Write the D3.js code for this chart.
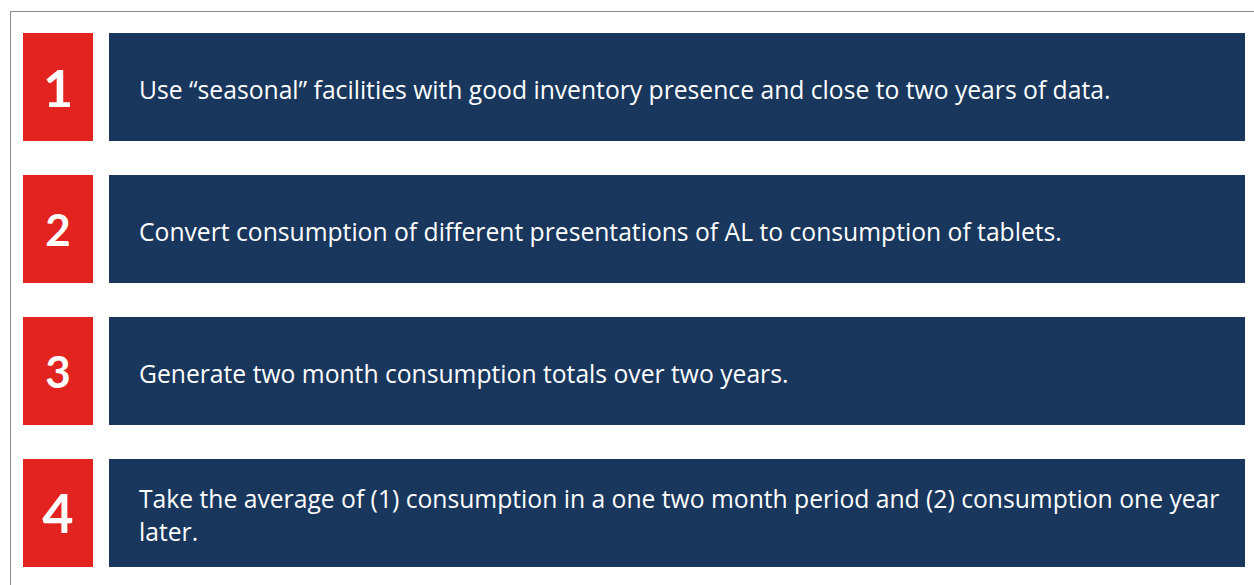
<!DOCTYPE html>
<html>
<head>
<meta charset="utf-8">
<script src="https://cdn.jsdelivr.net/npm/d3@7"></script>
<style>
  html, body { margin: 0; padding: 0; background: #fff; }
  svg { display: block; }
</style>
</head>
<body>
<svg id="chart" width="1254" height="585"></svg>
<script>
(function (d3) {
  'use strict';

  // step numbers and the text of each step (one entry per line)
  var steps = [1, 2, 3, 4];
  var stepLines = [
    ['Use \u201cseasonal\u201d facilities with good inventory presence and close to two years of data.'],
    ['Convert consumption of different presentations of AL to consumption of tablets.'],
    ['Generate two month consumption totals over two years.'],
    ['Take the average of (1) consumption in a one two month period and (2) consumption one year', 'later.']
  ];

  var width = 1254,
    height = 585,
    red = '#e2231f',
    navy = '#19365d',
    font = '"Open Sans", Lato, sans-serif',
    numSize = { 1: 52, 2: 44, 3: 44, 4: 54 },
    lineGap = 33,
    textX = 139,
    firstLineWidth = 972;

  var svg = d3.select('#chart');

  // frame
  svg.append('rect')
    .attr('x', 10.5)
    .attr('y', 11.5)
    .attr('width', width)
    .attr('height', height)
    .attr('fill', 'none')
    .attr('stroke', '#8c8c8c')
    .attr('stroke-width', 1);

  // pick a font size so the first line spans the same width as the original
  var probe = svg.append('text')
    .attr('font-family', font)
    .attr('font-size', '22px')
    .text(stepLines[0][0]);
  var fontSize = 22 * firstLineWidth / probe.node().getComputedTextLength();
  probe.remove();

  var y = d3.scaleBand()
    .domain(steps)
    .range([33, 567])
    .paddingInner(0.2394)
    .paddingOuter(0);

  var x = d3.scaleOrdinal()
    .domain(['num', 'text'])
    .range([23, 109]);

  var rows = svg.selectAll('g.step')
    .data(steps)
    .enter()
    .append('g')
    .attr('class', 'step')
    .attr('transform', function (d) {
      return 'translate(0,' + y(d) + ')';
    });

  rows.append('rect')
    .attr('x', x('num'))
    .attr('width', 70)
    .attr('height', y.bandwidth())
    .attr('fill', red);

  rows.append('rect')
    .attr('x', x('text'))
    .attr('width', 1245 - x('text'))
    .attr('height', y.bandwidth())
    .attr('fill', navy);

  rows.append('text')
    .attr('x', x('num') + 35)
    .attr('y', function (d) {
      return y.bandwidth() / 2 + 1 + numSize[d] * 0.36;
    })
    .attr('text-anchor', 'middle')
    .attr('fill', '#fff')
    .attr('font-family', 'Lato, "Open Sans", sans-serif')
    .attr('font-weight', 700)
    .attr('font-size', function (d) {
      return numSize[d] + 'px';
    })
    .text(function (d) {
      return d;
    });

  rows.append('text')
    .attr('fill', '#fff')
    .attr('font-family', font)
    .attr('font-size', fontSize + 'px')
    .each(function (d, i) {
      var lines = stepLines[i],
        first = y.bandwidth() / 2 + 12 - (lines.length - 1) * lineGap / 2;
      d3.select(this).selectAll('tspan')
        .data(lines)
        .enter()
        .append('tspan')
        .attr('x', textX)
        .attr('y', function (l, j) {
          return first + j * lineGap;
        })
        .text(function (l) {
          return l;
        });
    });
})(d3);
</script>
</body>
</html>
